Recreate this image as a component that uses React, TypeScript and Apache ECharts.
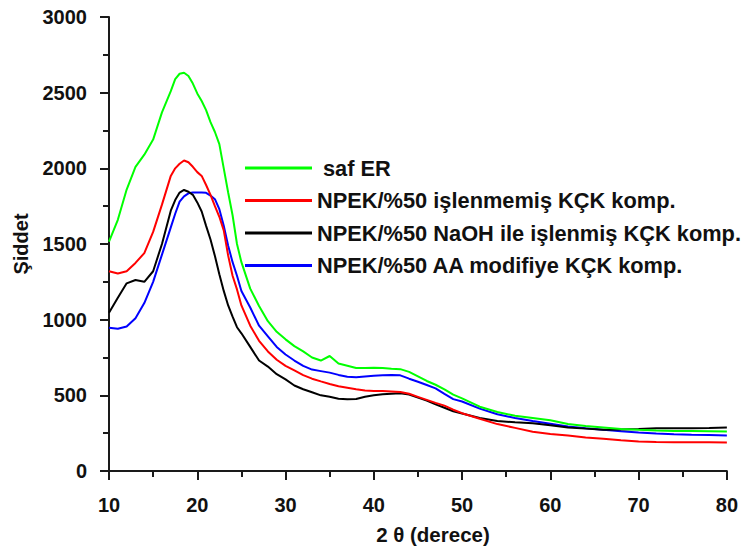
import React, { useEffect, useRef } from "react";
import * as echarts from "echarts";

const seriesNames = [
  "saf ER",
  "NPEK/%50 işlenmemiş KÇK komp.",
  "NPEK/%50 NaOH ile işlenmiş KÇK komp.",
  "NPEK/%50 AA modifiye KÇK komp.",
];
const seriesColors = ["#00ff00", "#ff0000", "#000000", "#0000ff"];

const twoTheta = [
  10, 11, 12, 13, 14, 15, 16, 17, 17.5, 18, 18.5, 19, 19.5, 20, 20.5, 21, 21.5, 22, 22.5, 23, 23.5, 24, 24.5, 25,
  26, 27, 28, 29, 30, 31, 32, 33, 34, 35, 36, 37, 38, 39, 40, 41, 42, 43, 44, 45, 46, 47, 48, 49, 50,
  52, 54, 56, 58, 60, 62, 64, 66, 68, 70, 72, 74, 76, 78, 80,
];

const safER = [
  1515, 1660, 1860, 2010, 2090, 2190, 2370, 2510, 2590, 2625, 2632, 2610, 2560, 2495, 2445, 2385, 2305, 2240, 2160, 2000, 1840, 1690, 1500, 1380,
  1205, 1090, 990, 920, 870, 825, 790, 750, 730, 760, 710, 695, 680, 680, 682, 680, 676, 673, 655, 625, 595, 570, 540, 505, 480,
  425, 390, 365, 350, 335, 310, 298, 288, 278, 272, 268, 265, 265, 263, 261,
];
const islenmemis = [
  1320, 1305, 1320, 1375, 1440, 1580, 1760, 1950, 2000, 2030, 2052, 2040, 2010, 1975, 1950, 1890, 1825, 1750, 1680, 1590, 1423, 1290, 1200, 1094,
  960, 860, 790, 735, 695, 665, 634, 610, 592, 575, 560, 550, 540, 532, 528, 528, 525, 522, 510, 490, 470, 450, 432, 405, 382,
  345, 310, 285, 260, 245, 235, 222, 213, 203, 195, 191, 190, 190, 190, 188,
];
const naoh = [
  1045, 1145, 1240, 1262, 1250, 1320, 1500, 1720, 1790, 1840, 1857, 1845, 1825, 1775, 1715, 1620, 1530, 1420, 1300, 1190, 1094, 1020, 950, 910,
  820, 730, 690, 640, 605, 565, 540, 520, 500, 490, 478, 474, 476, 490, 500, 507, 510, 513, 505, 485, 465, 440, 418, 395, 380,
  350, 330, 322, 315, 302, 288, 280, 272, 275, 278, 282, 283, 283, 284, 287,
];
const aaModifiye = [
  947, 940, 955, 1010, 1110, 1250, 1430, 1610, 1700, 1780, 1815, 1835, 1840, 1840, 1840, 1838, 1820, 1796, 1730, 1620, 1489, 1380, 1290, 1190,
  1080, 960, 890, 820, 770, 730, 695, 670, 660, 650, 635, 623, 620, 625, 630, 632, 634, 632, 610, 590, 568, 546, 510, 475, 459,
  412, 375, 350, 330, 312, 294, 282, 272, 262, 254, 247, 243, 240, 238, 235,
];
const seriesValues = [safER, islenmemis, naoh, aaModifiye];

const FONT = "Arial, 'Liberation Sans', sans-serif";

export default function App() {
  const ref = useRef<HTMLDivElement>(null);
  useEffect(() => {
    if (!ref.current) return;
    const chart = echarts.init(ref.current, undefined, { renderer: "svg" });
    const axisStyle = {
      axisLine: { show: true, lineStyle: { color: "#1a1a1a", width: 2 } },
      axisTick: { show: true, inside: false, length: 9, lineStyle: { color: "#1a1a1a", width: 2 } },
      minorTick: { show: true, splitNumber: 2, length: 6, lineStyle: { color: "#1a1a1a", width: 2 } },
      splitLine: { show: false },
      axisLabel: {
        color: "#111",
        fontSize: 20,
        fontWeight: "bold" as const,
        fontFamily: FONT,
        formatter: (v: number) => String(v),
      },
    };
    chart.setOption({
      animation: false,
      backgroundColor: "#ffffff",
      textStyle: { fontFamily: FONT },
      grid: { left: 109, right: 13, top: 17, bottom: 72, containLabel: false },
      legend: {
        orient: "vertical",
        left: 245,
        top: 157,
        padding: 0,
        itemWidth: 67,
        itemHeight: 3,
        itemGap: 10.5,
        icon: "rect",
        textStyle: { fontSize: 21.8, fontWeight: "bold", color: "#111", fontFamily: FONT, lineHeight: 22 },
        data: seriesNames.map((n, i) =>
          i === 0 ? { name: n, textStyle: { padding: [0, 0, 0, 6] } } : { name: n }
        ),
      },
      xAxis: {
        type: "value",
        min: 10,
        max: 80,
        interval: 10,
        name: "2 θ (derece)",
        nameLocation: "middle",
        nameGap: 53,
        nameTextStyle: { fontSize: 20.5, fontWeight: "bold", color: "#111", fontFamily: FONT, padding: [0, 0, 0, 30] },
        ...axisStyle,
        axisLabel: { ...axisStyle.axisLabel, margin: 24 },
      },
      yAxis: {
        type: "value",
        min: 0,
        max: 3000,
        interval: 500,
        name: "Şiddet",
        nameLocation: "middle",
        nameGap: 78,
        nameTextStyle: { fontSize: 20, fontWeight: "bold", color: "#111", fontFamily: FONT },
        ...axisStyle,
        axisLabel: { ...axisStyle.axisLabel, margin: 22 },
      },
      series: seriesNames.map((name, i) => ({
        name,
        type: "line",
        showSymbol: false,
        symbol: "none",
        color: seriesColors[i],
        lineStyle: { color: seriesColors[i], width: 2 },
        data: twoTheta.map((x, j) => [x, seriesValues[i][j]]),
        z: 10 - i,
      })),
    });
    return () => chart.dispose();
  }, []);
  return (
    <div
      ref={ref}
      style={{ position: "fixed", left: 0, top: 0, width: 741, height: 550, background: "#fff" }}
    />
  );
}
